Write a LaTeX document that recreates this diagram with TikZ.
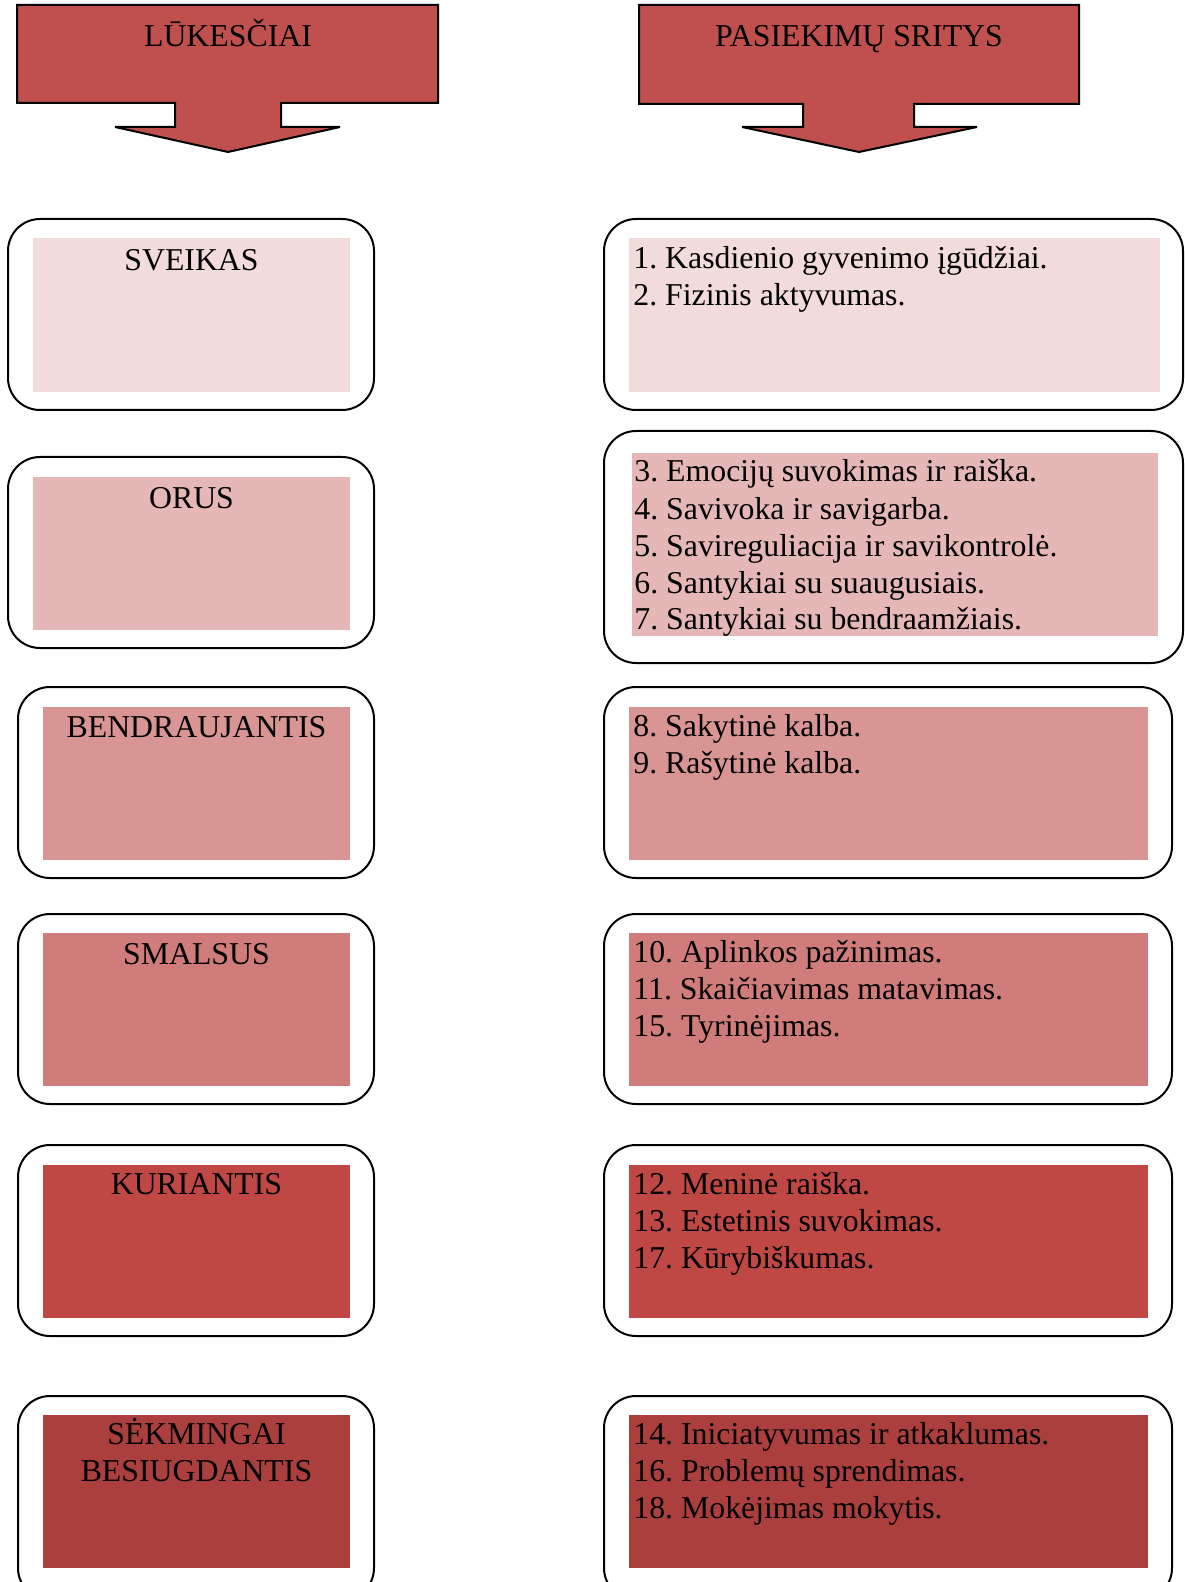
\documentclass[tikz,border=0pt]{standalone}
\usepackage{fontspec}
\setmainfont{Liberation Serif}
\frenchspacing
\newcommand{\linesL}[1]{\begin{tabular}[t]{@{}l@{}}#1\end{tabular}}
\newcommand{\linesC}[1]{\begin{tabular}[t]{@{}c@{}}#1\end{tabular}}
\begin{document}
\begin{tikzpicture}[x=0.5pt,y=-0.5pt,
  arrowshape/.style={draw=black,line width=1pt,fill=arrowred,miter limit=1.5},
  outerbox/.style={draw=black,line width=1pt,rounded corners=16pt},
  lbl/.style={font=\fontsize{15.9pt}{18.5pt}\selectfont,inner sep=0pt,text=black},
  ltext/.style={lbl,anchor=base},
  rtext/.style={lbl,anchor=base west}
]
\definecolor{arrowred}{HTML}{C0504D}
\definecolor{rowa}{HTML}{F2DCDB}
\definecolor{rowb}{HTML}{E5B8B7}
\definecolor{rowc}{HTML}{D99594}
\definecolor{rowd}{HTML}{D07C7A}
\definecolor{rowe}{HTML}{BF4845}
\definecolor{rowf}{HTML}{AB3F3D}
\useasboundingbox[fill=white] (0,0) rectangle (1184,1582);

% top arrows
\draw[arrowshape] (17,5) -- (438,5) -- (438,103) -- (281,103) -- (281,127) -- (340,127)
  -- (228,152) -- (115,127) -- (175,127) -- (175,103) -- (17,103) -- cycle;
\node[ltext] (lukesciai) at (228,47) {LŪKESČIAI};
\draw[arrowshape] (639,5) -- (1079,5) -- (1079,104) -- (914,104) -- (914,127) -- (977,127)
  -- (859,152) -- (742,127) -- (803,127) -- (803,104) -- (639,104) -- cycle;
\node[ltext] (pasiekimai) at (859,47) {PASIEKIMŲ SRITYS};

% left column
\draw[outerbox] (8,219) rectangle (374,410);
\fill[rowa] (33,238) rectangle (350,392);
\node[ltext] (sveikas) at (191.5,270.5) {SVEIKAS};

\draw[outerbox] (8,457) rectangle (374,648);
\fill[rowb] (33,477) rectangle (350,630);
\node[ltext] (orus) at (191.5,508.5) {ORUS};

\draw[outerbox] (18,687) rectangle (374,878);
\fill[rowc] (43,707) rectangle (350,860);
\node[ltext] (bendraujantis) at (196.5,737.5) {BENDRAUJANTIS};

\draw[outerbox] (18,914) rectangle (374,1104);
\fill[rowd] (43,933) rectangle (350,1086);
\node[ltext] (smalsus) at (196.5,964.5) {SMALSUS};

\draw[outerbox] (18,1145) rectangle (374,1336);
\fill[rowe] (43,1165) rectangle (350,1318);
\node[ltext] (kuriantis) at (196.5,1194.5) {KURIANTIS};

\draw[outerbox] (18,1396) rectangle (374,1600);
\fill[rowf] (43,1415) rectangle (350,1568);
\node[ltext] (sekmingai) at (196.5,1444.5) {\linesC{SĖKMINGAI\\BESIUGDANTIS}};

% right column
\draw[outerbox] (604,219) rectangle (1183,410);
\fill[rowa] (629,238) rectangle (1160,392);
\node[rtext] (r1) at (633,268.5) {\linesL{1. Kasdienio gyvenimo įgūdžiai.\\2. Fizinis aktyvumas.}};

\draw[outerbox] (604,431) rectangle (1183,663);
\fill[rowb] (632,453) rectangle (1158,636);
\node[rtext] (r2) at (634,482) {\linesL{3. Emocijų suvokimas ir raiška.\\4. Savivoka ir savigarba.\\5. Savireguliacija ir savikontrolė.\\6. Santykiai su suaugusiais.\\7. Santykiai su bendraamžiais.}};

\draw[outerbox] (604,687) rectangle (1172,878);
\fill[rowc] (629,707) rectangle (1148,860);
\node[rtext] (r3) at (633,736) {\linesL{8. Sakytinė kalba.\\9. Rašytinė kalba.}};

\draw[outerbox] (604,914) rectangle (1172,1104);
\fill[rowd] (629,933) rectangle (1148,1086);
\node[rtext] (r4) at (633,962.5) {\linesL{10. Aplinkos pažinimas.\\11. Skaičiavimas matavimas.\\15. Tyrinėjimas.}};

\draw[outerbox] (604,1145) rectangle (1172,1336);
\fill[rowe] (629,1165) rectangle (1148,1318);
\node[rtext] (r5) at (633,1194) {\linesL{12. Meninė raiška.\\13. Estetinis suvokimas.\\17. Kūrybiškumas.}};

\draw[outerbox] (604,1396) rectangle (1172,1600);
\fill[rowf] (629,1415) rectangle (1148,1568);
\node[rtext] (r6) at (633,1444.5) {\linesL{14. Iniciatyvumas ir atkaklumas.\\16. Problemų sprendimas.\\18. Mokėjimas mokytis.}};
\end{tikzpicture}
\end{document}
